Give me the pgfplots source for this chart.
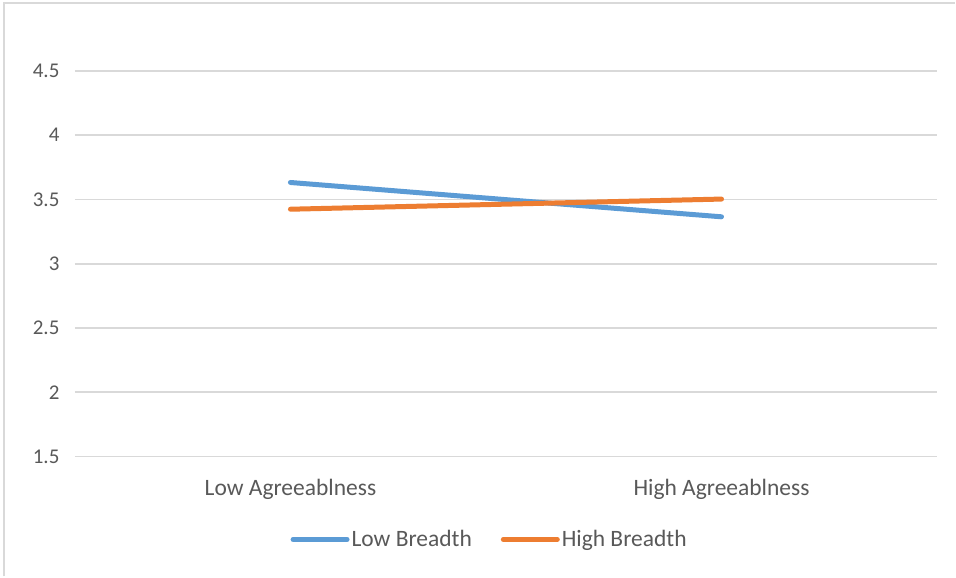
\documentclass[border=0pt]{standalone}
\usepackage{pgfplots}
\pgfplotsset{compat=1.18}
\usepackage{fontspec}
\setmainfont{Carlito}
\definecolor{lowb}{HTML}{5B9BD5}
\definecolor{highb}{HTML}{ED7D31}
\definecolor{txt}{HTML}{595959}
\definecolor{gridc}{HTML}{D9D9D9}
\begin{document}
\begin{tikzpicture}[x=1pt,y=1pt]
% chart area frame
\path[fill=white] (0,0) rectangle (956,577);
\draw[gridc, line width=2pt] (4,0) -- (4,574) -- (956,574);
\begin{axis}[
  at={(75pt,120pt)}, anchor=south west,
  scale only axis, width=863pt, height=386pt,
  xmin=-0.5, xmax=1.5, ymin=1.5, ymax=4.5,
  xtick={0,1}, xticklabels={Low Agreeablness, High Agreeablness},
  ytick={1.5,2,2.5,3,3.5,4,4.5},
  /pgf/number format/fixed,
  /pgf/number format/assume math mode=true,
  axis line style={draw=none},
  major tick length=0pt,
  ymajorgrids, grid style={gridc, line width=1.8pt},
  tick label style={font=\fontsize{21}{25}\selectfont, text=txt},
  xticklabel style={yshift=-19pt, font=\fontsize{23.5}{28}\selectfont},
  yticklabel style={xshift=-12pt},
  legend columns=2,
  legend style={at={(0.481,-0.215)}, anchor=center, draw=none, fill=none,
    font=\fontsize{23.5}{28}\selectfont, text=txt,
    /tikz/every even column/.append style={column sep=27pt},
    inner sep=0pt},
  legend image code/.code={\draw[#1, line width=5pt, line cap=round] (0pt,0pt) -- (54pt,0pt);},
  every axis plot/.append style={line width=5pt, line cap=round, mark=none},
  clip=false,
]
\addplot[lowb] coordinates {(0,3.632) (1,3.365)};
\addlegendentry{Low Breadth}
\addplot[highb] coordinates {(0,3.424) (1,3.503)};
\addlegendentry{High Breadth}
\end{axis}
\end{tikzpicture}
\end{document}
